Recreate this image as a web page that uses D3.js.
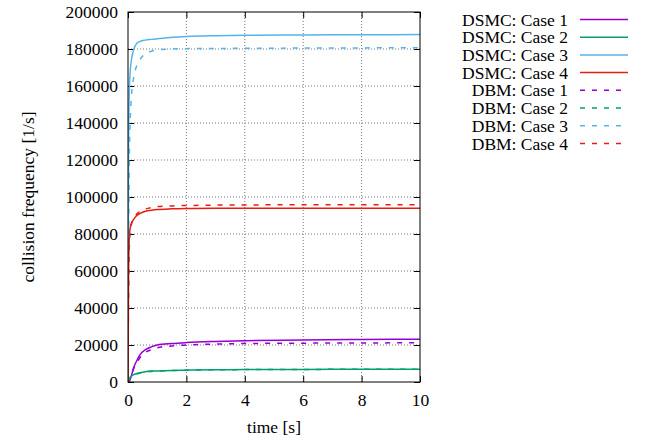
<!DOCTYPE html>
<html><head><meta charset="utf-8">
<script src="https://cdn.jsdelivr.net/npm/d3@7"></script>
<style>body{margin:0;background:#fff}svg{display:block}text{font-family:"Liberation Serif","Times New Roman",serif;fill:#000}</style>
</head><body>
<svg id="c" width="668" height="441"></svg>
<script>
const times = [0,0.02,0.05,0.1,0.2,0.3,0.4,0.6,0.8,1,1.5,2,3,4,6,8,10];
const dsmc1 = [0,0,500,2500,8000,11500,14500,17500,19000,20000,20800,21300,21900,22300,22700,23000,23100];
const dsmc2 = [0,1200,2000,3000,4000,4600,5000,5600,5900,6000,6250,6400,6600,6700,6800,6850,6900];
const dsmc3 = [0,130000,160000,172000,180000,183000,184000,184800,185200,185600,186300,186800,187200,187400,187600,187700,187800];
const dsmc4 = [0,60000,80000,85000,88000,90000,91000,92300,92800,93200,93600,93800,93900,93900,93900,93900,93900];
const dbm1 = [0,0,800,3000,7500,10500,13000,16000,17500,18500,19500,20000,20500,20800,21000,21100,21200];
const dbm2 = [0,800,1500,2600,3700,4300,4800,5400,5700,5900,6200,6400,6600,6700,6800,6850,6900];
const dbm3 = [0,70000,125000,150000,165000,171000,174000,177500,178800,179500,180000,180200,180300,180400,180500,180600,180700];
const dbm4 = [0,50000,75000,84000,88500,90800,92000,93500,94300,94800,95200,95400,95600,95700,95800,95800,95800];
const seriesNames = ["DSMC: Case 1","DSMC: Case 2","DSMC: Case 3","DSMC: Case 4","DBM: Case 1","DBM: Case 2","DBM: Case 3","DBM: Case 4"];
const seriesValues = [dsmc1,dsmc2,dsmc3,dsmc4,dbm1,dbm2,dbm3,dbm4];
const colors = ["#9400d3","#009e73","#56b4e9","#e51e10","#9400d3","#009e73","#56b4e9","#e51e10"];
const dashed = [false,false,false,false,true,true,true,true];
const xTicks = [0,2,4,6,8,10];
const yTicks = [0,20000,40000,60000,80000,100000,120000,140000,160000,180000,200000];

const svg = d3.select("#c");
const L=128,R=420,T=12,B=382;
const x = d3.scaleLinear().domain([0,10]).range([L,R]);
const y = d3.scaleLinear().domain([0,200000]).range([B,T]);
const FS = "17.5px";

// grid
const g = svg.append("g");
g.selectAll(".gx").data(xTicks.slice(1,-1)).enter().append("line")
 .attr("x1",d=>x(d)).attr("x2",d=>x(d)).attr("y1",T).attr("y2",B)
 .attr("stroke","#777").attr("stroke-width",1).attr("stroke-dasharray","1,2");
g.selectAll(".gy").data(yTicks.slice(1,-1)).enter().append("line")
 .attr("x1",L).attr("x2",R).attr("y1",d=>y(d)).attr("y2",d=>y(d))
 .attr("stroke","#777").attr("stroke-width",1).attr("stroke-dasharray","1,2");

// axes with ticks inward
const ax = svg.append("g");
ax.append("g").attr("transform",`translate(0,${B})`).call(d3.axisBottom(x).tickValues(xTicks).tickSizeInner(-6).tickSizeOuter(0).tickPadding(12));
ax.append("g").attr("transform",`translate(0,${T})`).call(d3.axisTop(x).tickValues(xTicks).tickSizeInner(-6).tickSizeOuter(0).tickFormat(""));
ax.append("g").attr("transform",`translate(${L},0)`).call(d3.axisLeft(y).tickValues(yTicks).tickSizeInner(-6).tickSizeOuter(0).tickPadding(10).tickFormat(d3.format("d")));
ax.append("g").attr("transform",`translate(${R},0)`).call(d3.axisRight(y).tickValues(yTicks).tickSizeInner(-6).tickSizeOuter(0).tickFormat(""));
ax.selectAll(".domain").remove();
ax.selectAll("text").style("font-size",FS).style("font-family","Liberation Serif, serif");
ax.selectAll(".tick line").attr("stroke","#000");

// clip
svg.append("clipPath").attr("id","cp").append("rect").attr("x",L).attr("y",T).attr("width",R-L).attr("height",B-T);
const line = d3.line().x((d,i)=>x(times[i])).y(d=>y(d)).curve(d3.curveMonotoneX);
const lg = svg.append("g").attr("clip-path","url(#cp)");
seriesValues.forEach((vals,i)=>{
  lg.append("path").attr("d",line(vals)).attr("fill","none").attr("stroke",colors[i])
    .attr("stroke-width",1.5).attr("stroke-dasharray",dashed[i]?"5,7":null);
});

// border
svg.append("rect").attr("x",L).attr("y",T).attr("width",R-L).attr("height",B-T)
 .attr("fill","none").attr("stroke","#000").attr("stroke-width",1);

// axis labels
svg.append("text").attr("x",(L+R)/2).attr("y",433).attr("text-anchor","middle").style("font-size",FS).text("time [s]");
svg.append("text").attr("transform",`translate(28,${(T+B)/2}) rotate(-90)`).attr("text-anchor","middle")
 .attr("dy","0.35em").style("font-size",FS).text("collision frequency [1/s]");

// legend
const leg = svg.append("g");
seriesNames.forEach((n,i)=>{
  const yy = 19.5 + i*17.7;
  leg.append("text").attr("x",568).attr("y",yy).attr("dy","0.35em").attr("text-anchor","end").style("font-size",FS).text(n);
  leg.append("line").attr("x1",580).attr("x2",628).attr("y1",yy).attr("y2",yy)
    .attr("stroke",colors[i]).attr("stroke-width",1.5).attr("stroke-dasharray",dashed[i]?"5,7":null);
});
</script>
</body></html>
